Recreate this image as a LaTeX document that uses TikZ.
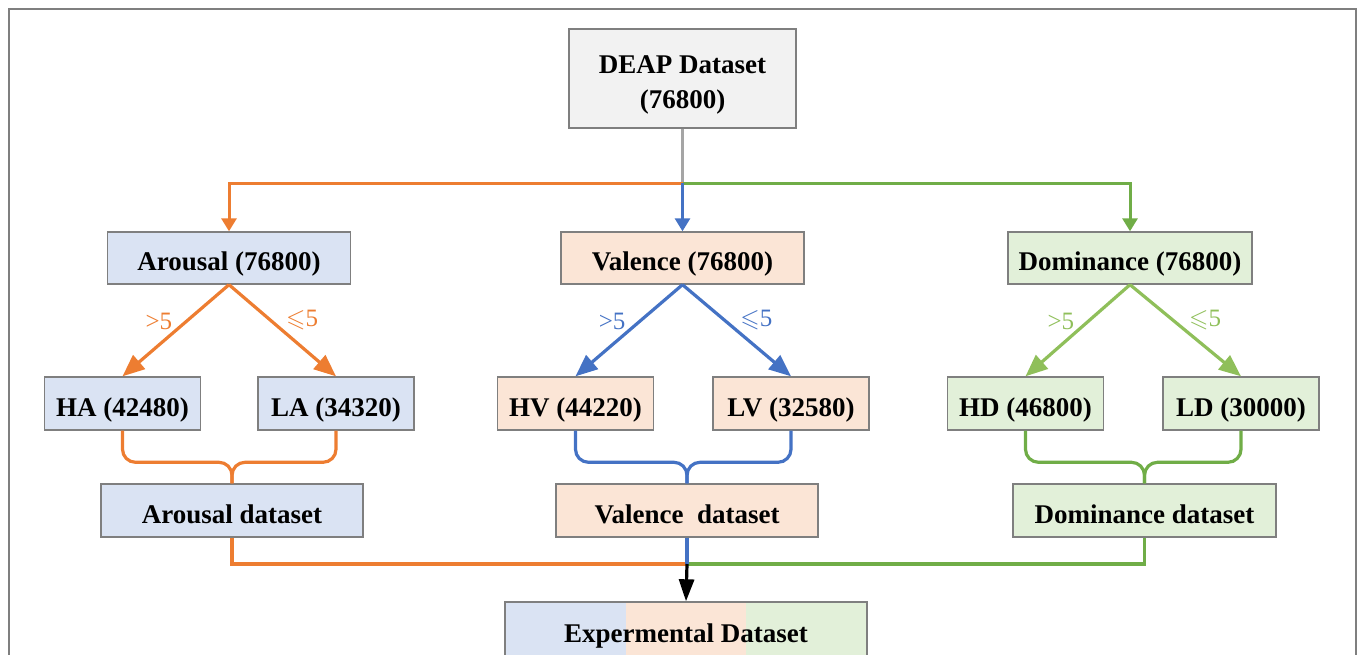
\documentclass[tikz,border=0pt]{standalone}
\usepackage{amssymb}
\usepackage{fontspec}
\setmainfont{Liberation Serif}
\usepackage{tikz}
\usetikzlibrary{arrows.meta}
\definecolor{cor}{HTML}{ED7D31}
\definecolor{cbl}{HTML}{4472C4}
\definecolor{cgn}{HTML}{70AD47}
\definecolor{clg}{HTML}{8FBF5A}
\definecolor{cgr}{HTML}{A5A5A5}
\definecolor{cbd}{HTML}{7F7F7F}
\definecolor{fbl}{HTML}{DAE3F3}
\definecolor{for}{HTML}{FBE5D6}
\definecolor{fgn}{HTML}{E2F0D9}
\definecolor{fgr}{HTML}{F2F2F2}
\tikzset{
  dsnode/.style = {align=center, inner sep=0pt, text centered,
    font=\fontsize{13.5}{17.5}\selectfont\bfseries, draw=cbd, line width=0.7pt},
  one_ln/.style = {text height=12.5pt, text depth=0pt},% single line text
  box_gr/.style = {dsnode, fill=fgr, minimum width=113.5pt, minimum height=49.5pt},% top
  box_b/.style = {dsnode, one_ln, fill=fbl, minimum width=121.5pt, minimum height=26pt},
  box_o/.style = {dsnode, one_ln, fill=for, minimum width=121.5pt, minimum height=26pt},
  box_g/.style = {dsnode, one_ln, fill=fgn, minimum width=122pt, minimum height=26pt},
  leaf_b/.style = {dsnode, one_ln, fill=fbl, minimum width=78pt, minimum height=26.5pt},
  leaf_o/.style = {dsnode, one_ln, fill=for, minimum width=78pt, minimum height=26.5pt},
  leaf_g/.style = {dsnode, one_ln, fill=fgn, minimum width=78pt, minimum height=26.5pt},
  set_b/.style = {dsnode, one_ln, fill=fbl, minimum width=131pt, minimum height=26.5pt},
  set_o/.style = {dsnode, one_ln, fill=for, minimum width=131pt, minimum height=26.5pt},
  set_g/.style = {dsnode, one_ln, fill=fgn, minimum width=131.5pt, minimum height=26.5pt},
  set_x/.style = {dsnode, text height=9.5pt, text depth=0pt, fill=none,
    minimum width=181pt, minimum height=31pt},
  thr/.style = {font=\fontsize{12.5}{14}\selectfont, inner sep=1pt, yshift=-1.5pt},
  tip_s/.style = {-{Triangle[length=6.5pt,width=7.5pt]}},
  tip_l/.style = {-{Triangle[length=11pt,width=9pt]}},
  ln_o/.style = {draw=cor, line width=1.6pt},
  ln_b/.style = {draw=cbl, line width=1.6pt},
  ln_g/.style = {draw=cgn, line width=1.6pt},
  ln_lg/.style = {draw=clg, line width=1.6pt},
  }
\begin{document}
\begin{tikzpicture}[x=0.5pt,y=-0.5pt]
  \useasboundingbox (0,0) rectangle (1360,654);
  \clip (0,0) rectangle (1360,654);
  \draw[cbd, line width=0.8pt] (9,9) rectangle (1356,700);

  \node[box_gr] (deap) at (682.5,78.5) {\rule{0pt}{15pt}DEAP Dataset\\(76800)};

  \node[box_b] (ar) at (229,258) {Arousal (76800)};
  \node[box_o] (val) at (682.5,258) {Valence (76800)};
  \node[box_g] (dom) at (1130,258) {Dominance (76800)};

  \node[leaf_b] (ha) at (122.5,403.5) {HA (42480)};
  \node[leaf_b] (la) at (336,403.5) {LA (34320)};
  \node[leaf_o] (hv) at (575.5,403.5) {HV (44220)};
  \node[leaf_o] (lv) at (791,403.5) {LV (32580)};
  \node[leaf_g] (hd) at (1025.5,403.5) {HD (46800)};
  \node[leaf_g] (ld) at (1241,403.5) {LD (30000)};

  \node[set_b] (ads) at (232,510.5) {Arousal dataset};
  \node[set_o] (vds) at (687,510.5) {Valence~~dataset};
  \node[set_g] (dds) at (1144.5,510.5) {Dominance dataset};

  \fill[fbl] (505,602) rectangle (626,664);
  \fill[for] (626,602) rectangle (746,664);
  \fill[fgn] (746,602) rectangle (867,664);
  \node[set_x] (ex) at (686,633) {Expermental Dataset};

  \coordinate (sp) at (682.5,183);
  \coordinate (jn) at (687,564);

  %   split
  \draw[cgr, line width=1.5pt] (deap.south) -- (sp);
  \draw[ln_o, line width=1.5pt, tip_s] (sp) -| (ar.north);
  \draw[ln_g, line width=1.5pt, tip_s] (sp) -| (dom.north);
  \draw[ln_b, line width=1.5pt, tip_s] (sp) -- (val.north);

  %   thresholds
  \draw[ln_o, tip_l] (ar.south) -- node[thr, text=cor, above left] {>5} (ha.north);
  \draw[ln_o, tip_l] (ar.south) -- node[thr, text=cor, above right] {$\leqslant$5} (la.north);
  \draw[ln_b, tip_l] (val.south) -- node[thr, text=cbl, above left] {>5} (hv.north);
  \draw[ln_b, tip_l] (val.south) -- node[thr, text=cbl, above right] {$\leqslant$5} (lv.north);
  \draw[ln_lg, tip_l] (dom.south) -- node[thr, text=clg, above left] {>5} (hd.north);
  \draw[ln_lg, tip_l] (dom.south) -- node[thr, text=clg, above right] {$\leqslant$5} (ld.north);

  %   merge
  \draw[ln_o, rounded corners=6.5pt] (ha.south) |- ([yshift=10.5pt]ads.north) -- (ads.north);
  \draw[ln_o, rounded corners=6.5pt] (la.south) |- ([yshift=10.5pt]ads.north) -- (ads.north);
  \draw[ln_b, rounded corners=6.5pt] (hv.south) |- ([yshift=10.5pt]vds.north) -- (vds.north);
  \draw[ln_b, rounded corners=6.5pt] (lv.south) |- ([yshift=10.5pt]vds.north) -- (vds.north);
  \draw[ln_g, rounded corners=6.5pt] (hd.south) |- ([yshift=10.5pt]dds.north) -- (dds.north);
  \draw[ln_g, rounded corners=6.5pt] (ld.south) |- ([yshift=10.5pt]dds.north) -- (dds.north);

  \draw[ln_o] (ads.south) |- (jn);
  \draw[ln_g] (dds.south) |- (jn);
  \draw[ln_b] (vds.south) -- (jn);
  \draw[black, line width=1.6pt, -{Triangle[length=11pt,width=7.5pt]}] (jn) -- (ex.north);
\end{tikzpicture}
\end{document}
